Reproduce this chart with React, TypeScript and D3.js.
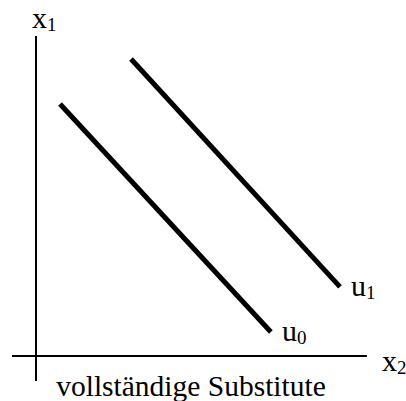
import React from "react";
import * as d3 from "d3";

const curveNames = ["u0", "u1"];
const curveStartX = [0.75, 2.97];
const curveStartY = [7.875, 9.28];
const curveEndX = [7.34, 9.5];
const curveEndY = [0.75, 2.16];
const axisLabels = ["x", "x"];
const axisSubs = ["1", "2"];
const caption = "vollständige Substitute";

const W = 406;
const H = 401;

export default function App() {
  const x = d3.scaleLinear().domain([0, 10]).range([36, 356]);
  const y = d3.scaleLinear().domain([0, 10]).range([356, 36]);
  const line = d3
    .line<[number, number]>()
    .x((d) => x(d[0]))
    .y((d) => y(d[1]));
  const font = "'Liberation Serif', 'Times New Roman', serif";
  return (
    <svg
      width={W}
      height={H}
      style={{ position: "absolute", left: 0, top: 0, background: "#fff" }}
      fontFamily={font}
    >
      {/* axes */}
      <path d={line([[-0.75, 0], [10.34, 0]]) || ""} stroke="#000" strokeWidth={2} fill="none" />
      <path d={line([[0, 10], [0, -0.78]]) || ""} stroke="#000" strokeWidth={2} fill="none" />
      {/* indifference curves */}
      {curveNames.map((n, i) => (
        <g key={n}>
          <path
            d={
              line([
                [curveStartX[i], curveStartY[i]],
                [curveEndX[i], curveEndY[i]],
              ]) || ""
            }
            stroke="#000"
            strokeWidth={5}
            fill="none"
          />
          <text x={x(curveEndX[i]) + 11} y={y(curveEndY[i]) + 9} fontSize={30}>
            {n[0]}
            <tspan fontSize={19} dy={3}>
              {n.slice(1)}
            </tspan>
          </text>
        </g>
      ))}
      {/* axis labels */}
      <text x={x(0) - 4} y={28} fontSize={30}>
        {axisLabels[0]}
        <tspan fontSize={19} dy={3}>
          {axisSubs[0]}
        </tspan>
      </text>
      <text x={382} y={y(0) + 15} fontSize={30}>
        {axisLabels[1]}
        <tspan fontSize={19} dy={3}>
          {axisSubs[1]}
        </tspan>
      </text>
      <text x={191} y={396} fontSize={29.5} textAnchor="middle">
        {caption}
      </text>
    </svg>
  );
}
